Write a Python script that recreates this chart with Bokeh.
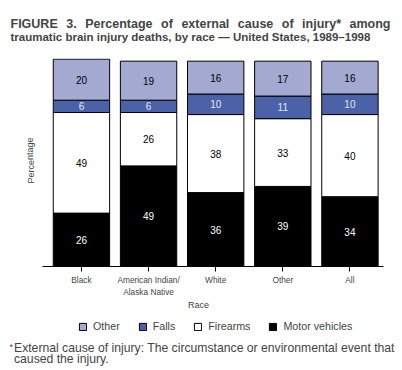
from bokeh.plotting import figure
from bokeh.models import Label, FixedTicker, Legend, LegendItem, ColumnDataSource, Range1d
from bokeh.layouts import column
from bokeh.embed import file_html
from bokeh.resources import INLINE

races = ["Black", "American Indian/\nAlaska Native", "White", "Other", "All"]
motor_vehicles = [26, 49, 36, 39, 34]
firearms = [49, 26, 38, 33, 40]
falls = [6, 6, 10, 11, 10]
other = [20, 19, 16, 17, 16]

series_names = ["Motor vehicles", "Firearms", "Falls", "Other"]
series_vals = [motor_vehicles, firearms, falls, other]
colors = ["#000000", "#ffffff", "#4c62a8", "#a3a9d0"]
label_colors = ["#ffffff", "#000000", "#e4e7f5", "#000000"]

title_line1 = "FIGURE 3. Percentage of external cause of injury* among"
title_line2 = "traumatic brain injury deaths, by race \u2014 United States, 1989\u20131998"
footnote_line1 = "External cause of injury: The circumstance or environmental event that"
footnote_line2 = "caused the injury."

FONT = "Liberation Sans"
W = 396
PX_PER_CAT = 67.1  # horizontal scale of the category axis


def blank(height):
    f = figure(width=W, height=height, output_backend="svg", toolbar_location=None,
               x_range=Range1d(0, W), y_range=Range1d(height, 0),
               x_axis_location=None, y_axis_location=None, min_border=0,
               min_border_left=0, min_border_right=0, min_border_top=0, min_border_bottom=0)
    f.outline_line_color = None
    f.grid.visible = False
    return f


# ---------- header ----------
header = blank(57)
bold_w = {"F": 611, "I": 278, "G": 778, "U": 722, "R": 722, "E": 667, "3": 556, ".": 278,
          "P": 667, "e": 556, "r": 389, "c": 556, "n": 611, "t": 333, "a": 556, "g": 611,
          "o": 611, "f": 333, "x": 556, "l": 278, "u": 611, "s": 556, "i": 278, "j": 278,
          "y": 556, "*": 389, "m": 889}
fs1 = 12.5
words = title_line1.split(" ")
wlen = [sum(bold_w.get(ch, 556) for ch in w) * fs1 / 1000 for w in words]
x0, x1 = 10, 390
gap = (x1 - x0 - sum(wlen)) / (len(words) - 1)
xpos = x0
for w, L in zip(words, wlen):
    header.add_layout(Label(x=xpos, y=23, text=w, text_font=FONT, text_font_size=f"{fs1}px",
                            text_font_style="bold", text_baseline="alphabetic"))
    xpos += L + gap
header.add_layout(Label(x=10, y=36.5, text=title_line2, text_font=FONT, text_font_size="11.5px",
                        text_font_style="bold", text_baseline="alphabetic"))

# ---------- main chart (frame spans the full width) ----------
x_lo, x_hi = -0.58, 4.5
p = figure(width=W, height=259, output_backend="svg", toolbar_location=None,
           x_range=Range1d(x_lo - 42 / PX_PER_CAT, x_hi + 13 / PX_PER_CAT),
           y_range=Range1d(0, 101.3), y_axis_location=None,
           min_border_left=0, min_border_right=0, min_border_top=1, min_border_bottom=50)
p.outline_line_color = None
p.grid.visible = False

xs = list(range(len(races)))
data = {"x": xs}
for n, v in zip(series_names, series_vals):
    data[n] = v
src = ColumnDataSource(data)
rends = p.vbar_stack(series_names, x="x", width=0.84, source=src, fill_color=colors,
                     line_color="black", line_width=1)

for i in xs:
    base = 0
    for k, vals in enumerate(series_vals):
        v = vals[i]
        p.add_layout(Label(x=i, y=base + v / 2, text=str(v), text_align="center",
                           text_baseline="middle", text_font=FONT, text_font_size="10px",
                           text_color=label_colors[k]))
        base += v

ax = p.xaxis[0]
ax.bounds = (x_lo, x_hi)
ax.ticker = FixedTicker(ticks=xs)
ax.major_label_overrides = {i: r for i, r in enumerate(races)}
ax.major_label_text_font = FONT
ax.major_label_text_font_size = "8.3px"
ax.major_label_standoff = 3
ax.major_tick_in = 0
ax.major_tick_out = 5
ax.minor_tick_line_color = None
ax.axis_line_color = "black"
ax.major_tick_line_color = "black"
ax.axis_label = "Race"
ax.axis_label_text_font = FONT
ax.axis_label_text_font_size = "9px"
ax.axis_label_text_font_style = "normal"
ax.axis_label_standoff = 0

p.add_layout(Label(x=30, y=106, x_units="screen", y_units="screen", text="Percentage",
                   angle=1.5708, text_align="center", text_baseline="middle",
                   text_font=FONT, text_font_size="9px"))

# ---------- footer: legend + footnote ----------
footer = blank(52)
keys = []
for k in [3, 2, 1, 0]:
    r = footer.vbar(x=[float("nan")], top=[float("nan")], width=1,
                    fill_color=colors[k], line_color="black", line_width=1)
    keys.append(LegendItem(label=series_names[k], renderers=[r]))
legend = Legend(items=keys, orientation="horizontal", location=(78, 36),
                glyph_width=9, glyph_height=9, label_standoff=6, spacing=18,
                label_text_font=FONT, label_text_font_size="10.7px",
                border_line_color=None, background_fill_alpha=0, padding=0, margin=0,
                label_height=9)
footer.add_layout(legend, "center")

footer.add_layout(Label(x=9, y=25, text="*", text_font=FONT, text_font_size="9px",
                        text_baseline="top"))
footer.add_layout(Label(x=13.5, y=31, text=footnote_line1, text_font=FONT,
                        text_font_size="12.2px", text_baseline="middle"))
footer.add_layout(Label(x=13.5, y=42, text=footnote_line2, text_font=FONT,
                        text_font_size="12.2px", text_baseline="middle"))

layout = column(header, p, footer, spacing=0)
open("out.html", "w").write(file_html(layout, INLINE))
